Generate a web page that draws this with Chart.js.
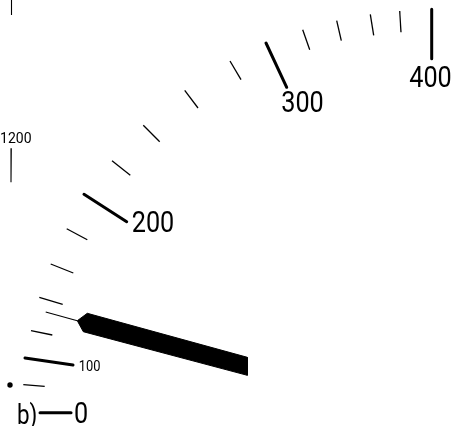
<!DOCTYPE html>
<html>
<head>
<meta charset="utf-8">
<style>html,body{margin:0;padding:0;background:#fff}canvas{display:block}</style>
<script src="https://cdn.jsdelivr.net/npm/chart.js@4"></script>
</head>
<body>
<canvas id="c" width="451" height="426"></canvas>
<script>
// In the picture's own plane: [x1, y1, x2, y2]
const minorTicks = [
  [23.3,384.7,44.7,386.3],
  [31,330.7,52.3,335],
  [39.3,297.3,62.7,304.3],
  [50.7,264,73.3,273],
  [66.7,228.7,87.3,239.7],
  [112,160.7,130.3,175.3],
  [143.3,125.3,159.7,141.7],
  [184.7,90.3,198,108],
  [230,61,241,79.7],
  [302.7,29.7,309.7,49.7],
  [336.7,20.7,341.3,40.7],
  [370.3,14.3,373.7,35.3],
  [399.7,11,401,32.3]
];
const majorTicks = [
  [40,412.7,71,412.7],
  [25,358,73,365],
  [84,194.3,126.7,221.7],
  [266,43,286.7,87.3],
  [431.7,9.3,431.7,58.7]
];
const hairTicks = [
  [11.3,148.3,11,182.3],
  [11.5,0,11.5,15],
  [45.7,312,77.3,320.7]
];
const needleX = [77.3,87.3,247.3,247.3,83.3,77.3];
const needleY = [320.7,313.3,357.3,375.3,331.7,320.7];
const pivot = [[10,385]];
const bigLabels = ['200','300','400','0'];
const bigLabelX = [153,302.5,430.5,81];
const bigLabelY = [231.7,112,87,423];
const smallLabels = ['100','1200'];
const smallLabelX = [89.7,15.8];
const smallLabelY = [370.5,143];
const smallSqueeze = [0.92,1];
const prefix = ['b)'];

function seg(s,w,cap){
  return {data:[{x:s[0],y:s[1]},{x:s[2],y:s[3]}],showLine:true,borderColor:'#000',
    borderWidth:w,pointRadius:0,borderCapStyle:cap,fill:false,tension:0};
}
const datasets=[];
minorTicks.forEach(s=>datasets.push(seg(s,1.3,'butt')));
hairTicks.forEach(s=>datasets.push(seg(s,1.1,'butt')));
majorTicks.forEach(s=>datasets.push(seg(s,3,'round')));
datasets.push({data:needleX.map((x,i)=>({x,y:needleY[i]})),showLine:true,fill:'shape',
  backgroundColor:'#000',borderColor:'#000',borderWidth:1,pointRadius:0,tension:0});
datasets.push({data:pivot.map(p=>({x:p[0],y:p[1]})),showLine:false,pointRadius:2.7,
  pointBackgroundColor:'#000',pointBorderWidth:0});

function squeezed(c,t,x,y,sx){
  c.save();c.translate(x,y);c.scale(sx,1);c.fillText(t,0,0);c.restore();
}
const textPlugin={id:'scaleText',afterDatasetsDraw(ch){
  const c=ch.ctx,X=ch.scales.x,Y=ch.scales.y;
  c.save();c.fillStyle='#000';c.textAlign='center';c.textBaseline='alphabetic';
  c.font='29px Roboto';
  bigLabels.forEach((t,i)=>squeezed(c,t,X.getPixelForValue(bigLabelX[i]),Y.getPixelForValue(bigLabelY[i]),0.87));
  c.font='14px Roboto';
  smallLabels.forEach((t,i)=>squeezed(c,t,X.getPixelForValue(smallLabelX[i]),Y.getPixelForValue(smallLabelY[i]),smallSqueeze[i]));
  c.font='28px Roboto';c.textAlign='left';
  squeezed(c,prefix[0],X.getPixelForValue(17),Y.getPixelForValue(424),0.8);
  c.restore();
}};

new Chart(document.getElementById('c'),{
  type:'scatter',
  data:{datasets},
  plugins:[textPlugin],
  options:{
    responsive:false,animation:false,devicePixelRatio:1,
    layout:{padding:0,autoPadding:false},
    plugins:{legend:{display:false},tooltip:{enabled:false},title:{display:false}},
    elements:{line:{tension:0}},
    scales:{
      x:{type:'linear',min:0,max:451,display:false},
      y:{type:'linear',min:0,max:426,reverse:true,display:false}
    }
  }
});
</script>
</body>
</html>
